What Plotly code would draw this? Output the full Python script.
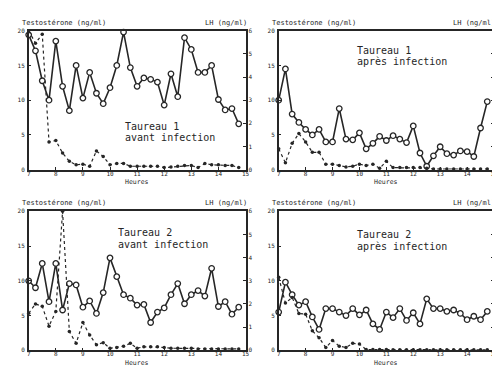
import plotly.graph_objects as go

hours = [7.0, 7.25, 7.5, 7.75, 8.0, 8.25, 8.5, 8.75, 9.0, 9.25, 9.5, 9.75,
         10.0, 10.25, 10.5, 10.75, 11.0, 11.25, 11.5, 11.75, 12.0, 12.25, 12.5, 12.75,
         13.0, 13.25, 13.5, 13.75, 14.0, 14.25, 14.5, 14.75]

# Testosterone (ng/ml), left axis
testo_t1_avant = [19.4, 17.1, 12.8, 10.0, 18.5, 12.0, 8.5, 15.0, 10.3, 14.0, 11.0, 9.5,
                  11.8, 15.0, 19.8, 14.7, 12.0, 13.2, 13.0, 12.6, 9.3, 13.8, 10.5, 19.0,
                  17.3, 14.0, 14.0, 15.0, 10.1, 8.6, 8.8, 6.6]
testo_t1_apres = [10.0, 14.5, 8.0, 6.8, 5.8, 5.0, 5.8, 4.0, 4.0, 8.8, 4.4, 4.3,
                  5.3, 3.0, 3.8, 4.8, 4.2, 4.9, 4.4, 3.9, 6.3, 2.4, 0.5, 2.0,
                  3.3, 2.3, 2.1, 2.7, 2.6, 1.9, 6.0, 9.8]
testo_t2_avant = [10.0, 9.0, 12.5, 7.0, 12.5, 5.8, 9.6, 9.4, 6.2, 7.1, 5.3, 8.3,
                  13.3, 10.6, 8.0, 7.5, 6.5, 6.6, 4.0, 5.5, 6.1, 8.0, 9.6, 6.7,
                  8.0, 8.6, 7.8, 11.8, 6.3, 7.0, 5.2, 6.2]
testo_t2_apres = [5.5, 9.8, 8.0, 6.5, 7.0, 4.8, 3.0, 6.0, 6.0, 5.5, 5.0, 6.0,
                  5.1, 5.8, 3.8, 3.0, 5.5, 4.7, 6.0, 4.3, 5.4, 3.8, 7.4, 6.0,
                  6.0, 5.6, 5.8, 5.3, 4.4, 4.9, 4.4, 5.6]

# LH (ng/ml), right axis
lh_t1_avant = [6.0, 5.46, 5.85, 1.2, 1.26, 0.72, 0.36, 0.21, 0.24, 0.15, 0.81, 0.57,
               0.21, 0.27, 0.27, 0.15, 0.15, 0.15, 0.15, 0.15, 0.09, 0.12, 0.15, 0.18,
               0.18, 0.09, 0.27, 0.21, 0.21, 0.18, 0.18, 0.09]
lh_t1_apres = [0.9, 0.3, 1.14, 1.56, 1.2, 0.75, 0.75, 0.24, 0.24, 0.18, 0.12, 0.15,
               0.24, 0.18, 0.24, 0.06, 0.36, 0.09, 0.09, 0.09, 0.09, 0.09, 0.06, 0.03,
               0.03, 0.03, 0.03, 0.03, 0.03, 0.03, 0.03, 0.03]
lh_t2_avant = [1.6, 2.0, 1.9, 1.04, 1.68, 6.0, 0.81, 0.3, 1.2, 0.66, 0.24, 0.33,
               0.09, 0.12, 0.18, 0.3, 0.09, 0.15, 0.15, 0.15, 0.12, 0.09, 0.09, 0.09,
               0.09, 0.06, 0.06, 0.06, 0.06, 0.06, 0.06, 0.06]
lh_t2_apres = [3.15, 2.04, 2.28, 1.59, 1.56, 0.84, 0.54, 0.12, 0.42, 0.18, 0.12, 0.3,
               0.27, 0.03, 0.03, 0.03, 0.03, 0.02, 0.02, 0.02, 0.02, 0.02, 0.02, 0.02,
               0.02, 0.02, 0.02, 0.02, 0.02, 0.02, 0.02, 0.02]

titles = [("Taureau 1", "avant infection"), ("Taureau 1", "après infection"),
          ("Taureau 2", "avant infection"), ("Taureau 2", "après infection")]
x_ticks = [7, 8, 9, 10, 11, 12, 13, 14, 15]
t_ticks = [0, 5, 10, 15, 20]
lh_ticks = [0, 1, 2, 3, 4, 5, 6]

W, H = 500, 366
INK = "#262626"
MONO = "DejaVu Sans Mono"

testo = [testo_t1_avant, testo_t1_apres, testo_t2_avant, testo_t2_apres]
lh = [lh_t1_avant, lh_t1_apres, lh_t2_avant, lh_t2_apres]

# pixel frames: (left, right, top, bottom)
frames = [(20.7, 237.5, 22.7, 161.7), (270.7, 486.0, 22.7, 161.7),
          (20.7, 237.5, 203.3, 342.3), (270.7, 486.0, 203.3, 342.3)]
title_pos = [((115, 118), (115, 129.5)), ((347, 42), (347, 53.5)),
             ((108, 224.5), (108, 236.5)), ((347, 226.5), (347, 238.5))]

fig = go.Figure()
layout = dict(width=W, height=H, margin=dict(l=0, r=0, t=0, b=0, autoexpand=False),
              paper_bgcolor="white", plot_bgcolor="white", showlegend=False,
              font=dict(family=MONO, color=INK, size=6))
annotations = []

def px(x):
    return x / W

def py(y):
    return 1 - y / H

for k in range(4):
    n = k + 1
    l, r, t, b = frames[k]
    xname = "xaxis" if n == 1 else f"xaxis{n}"
    xref = "x" if n == 1 else f"x{n}"
    yl = 2 * n - 1
    yr = 2 * n
    ylname = "yaxis" if yl == 1 else f"yaxis{yl}"
    ylref = "y" if yl == 1 else f"y{yl}"
    yrname = f"yaxis{yr}"
    yrref = f"y{yr}"

    fig.add_trace(go.Scatter(x=hours, y=lh[k], xaxis=xref, yaxis=yrref, mode="lines+markers",
                             line=dict(color=INK, width=1.2, dash="dot"),
                             marker=dict(size=3.5, color=INK), cliponaxis=False))
    fig.add_trace(go.Scatter(x=hours, y=testo[k], xaxis=xref, yaxis=ylref, mode="lines+markers",
                             line=dict(color=INK, width=1.6),
                             marker=dict(size=5.5, color="white", line=dict(color=INK, width=1.3)),
                             cliponaxis=False))

    common = dict(ticks="inside", ticklen=3, tickcolor=INK, showgrid=False, zeroline=False,
                  showline=True, linecolor=INK, linewidth=1.5, automargin=False,
                  tickfont=dict(size=6, family=MONO, color=INK))
    layout[xname] = dict(domain=[px(l), px(r)], range=[7, 15], tickvals=x_ticks,
                         mirror=True, anchor=ylref, ticklabelstandoff=-3, **common)
    layout[ylname] = dict(domain=[py(b), py(t)], range=[0, 20], tickvals=t_ticks,
                          anchor=xref, ticklabelstandoff=1, **common)
    layout[yrname] = dict(range=[0, 6], tickvals=lh_ticks, overlaying=ylref, side="right",
                          anchor=xref, ticklabelstandoff=0, **common)

    (x1, y1), (x2, y2) = title_pos[k]
    annotations.append(dict(text=titles[k][0], x=px(x1), y=py(y1), xref="paper", yref="paper",
                            xanchor="left", yanchor="middle", showarrow=False,
                            font=dict(size=10, family=MONO, color=INK)))
    annotations.append(dict(text=titles[k][1], x=px(x2), y=py(y2), xref="paper", yref="paper",
                            xanchor="left", yanchor="middle", showarrow=False,
                            font=dict(size=10, family=MONO, color=INK)))
    annotations.append(dict(text="Testostérone (ng/ml)", x=px(l - 9), y=py(t - 8), xref="paper",
                            yref="paper", xanchor="left", yanchor="middle", showarrow=False,
                            font=dict(size=7, family=MONO, color=INK)))
    annotations.append(dict(text="LH (ng/ml)", x=px(r + 3), y=py(t - 8), xref="paper",
                            yref="paper", xanchor="right", yanchor="middle", showarrow=False,
                            font=dict(size=7, family=MONO, color=INK)))
    annotations.append(dict(text="Heures", x=px((l + r) / 2), y=py(b + 12.5), xref="paper",
                            yref="paper", xanchor="center", yanchor="middle", showarrow=False,
                            font=dict(size=6.5, family=MONO, color=INK)))

layout["annotations"] = annotations
fig.update_layout(**layout)
fig.write_html("out.html")
